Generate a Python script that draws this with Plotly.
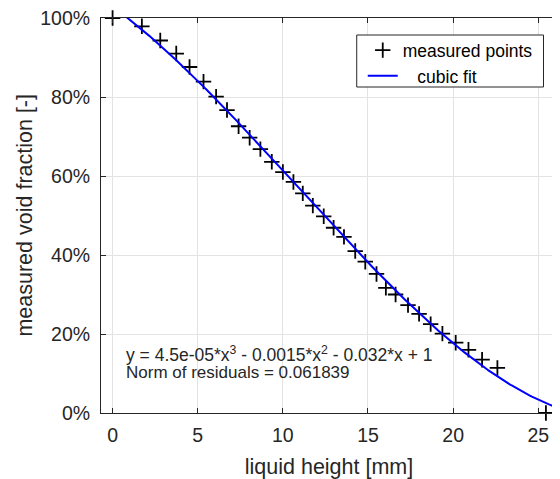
import numpy as np
import plotly.graph_objects as go

liquid_height_mm = [0, 1.72, 2.8, 3.74, 4.52, 5.34, 6.08, 6.72, 7.4, 8.05, 8.68, 9.35,
                    10.0, 10.62, 11.17, 11.76, 12.4, 12.98, 13.59, 14.25, 14.84, 15.5,
                    16.05, 16.62, 17.35, 18.0, 18.68, 19.37, 20.15, 20.9, 21.7, 22.6, 25.45]
void_fraction = [1.0, 0.979, 0.943, 0.910, 0.876, 0.839, 0.801, 0.767, 0.726, 0.697, 0.668,
                 0.636, 0.610, 0.585, 0.556, 0.525, 0.498, 0.469, 0.446, 0.410, 0.383, 0.352,
                 0.317, 0.300, 0.273, 0.251, 0.225, 0.201, 0.178, 0.160, 0.135, 0.114, 0.0]

# cubic fit coefficients (highest power first), as drawn in the reference
fit_coefficients = [4.47e-05, -0.00145, -0.0315, 1.029]

x_ticks = [0, 5, 10, 15, 20, 25]
y_ticks = [0, 0.2, 0.4, 0.6, 0.8, 1.0]
y_tick_labels = ["0%", "20%", "40%", "60%", "80%", "100%"]
x_range = [-0.68, 26.1]

x_title = "liquid height [mm]"
y_title = "measured void fraction [-]"
fit_eq_text = "y = 4.5e-05*x<sup>3</sup> - 0.0015*x<sup>2</sup> - 0.032*x + 1"
resid_text = "Norm of residuals = 0.061839"
legend_names = ["measured points", "\u00a0\u00a0\u00a0cubic fit"]

xf = np.linspace(x_range[0], x_range[1], 400)
yf = np.polyval(fit_coefficients, xf)

FONT = "Liberation Sans, Arial, sans-serif"
DARK = "#262626"

fig = go.Figure()
fig.add_trace(go.Scatter(
    x=liquid_height_mm, y=void_fraction, mode="markers", name=legend_names[0],
    marker=dict(symbol="cross-thin", size=11, line=dict(color="black", width=1.8), color="black"),
    cliponaxis=False,
))
fig.add_trace(go.Scatter(
    x=xf, y=yf, mode="lines", name=legend_names[1],
    line=dict(color="#0000ff", width=2),
))

axis_common = dict(
    showline=True, linecolor=DARK, linewidth=1, mirror="ticks",
    ticks="inside", ticklen=5, tickcolor=DARK, tickwidth=1,
    showgrid=True, gridcolor="#e3e3e3", gridwidth=1, zeroline=False,
    tickfont=dict(family=FONT, size=19.5, color=DARK),
    ticklabeloverflow="allow",
    automargin=False,
)

fig.update_xaxes(range=x_range, tickvals=x_ticks, ticklabelstandoff=5,
                 title=dict(text=x_title, font=dict(family=FONT, size=21.5, color=DARK), standoff=14),
                 **axis_common)
fig.update_yaxes(range=[0, 1], tickvals=y_ticks, ticktext=y_tick_labels, ticklabelstandoff=6,
                 **axis_common)

# y-axis title placed precisely
fig.add_annotation(text=y_title, xref="paper", yref="paper", x=(16 - 93) / 456.5, y=0.5,
                   xanchor="center", yanchor="middle", textangle=-90, showarrow=False,
                   font=dict(family=FONT, size=21.5, color=DARK))

# legend frame (white box with dark border)
fig.add_shape(type="rect", xref="paper", yref="paper",
              x0=(357 - 101) / 456.5, x1=(544 - 101) / 456.5,
              y0=(413 - 87) / 395, y1=(413 - 35) / 395,
              line=dict(color=DARK, width=1), fillcolor="white", layer="above")

fig.add_annotation(text=fit_eq_text, xref="paper", yref="paper", x=0.050, y=(413 - 353.5) / 395,
                   xanchor="left", yanchor="middle", showarrow=False,
                   font=dict(family=FONT, size=17.5, color=DARK))
fig.add_annotation(text=resid_text, xref="paper", yref="paper", x=0.050, y=(413 - 372.5) / 395,
                   xanchor="left", yanchor="middle", showarrow=False,
                   font=dict(family=FONT, size=17, color=DARK))

fig.update_layout(
    template="none",
    width=552, height=471,
    margin=dict(l=93, r=2.5, t=10, b=66),
    paper_bgcolor="white", plot_bgcolor="white",
    showlegend=True,
    legend=dict(x=0.574, y=0.964, xanchor="left", yanchor="top",
                bgcolor="rgba(0,0,0,0)", borderwidth=0,
                font=dict(family=FONT, size=17.5, color="black"),
                tracegroupgap=0, itemwidth=30),
)

fig.write_html("out.html")
